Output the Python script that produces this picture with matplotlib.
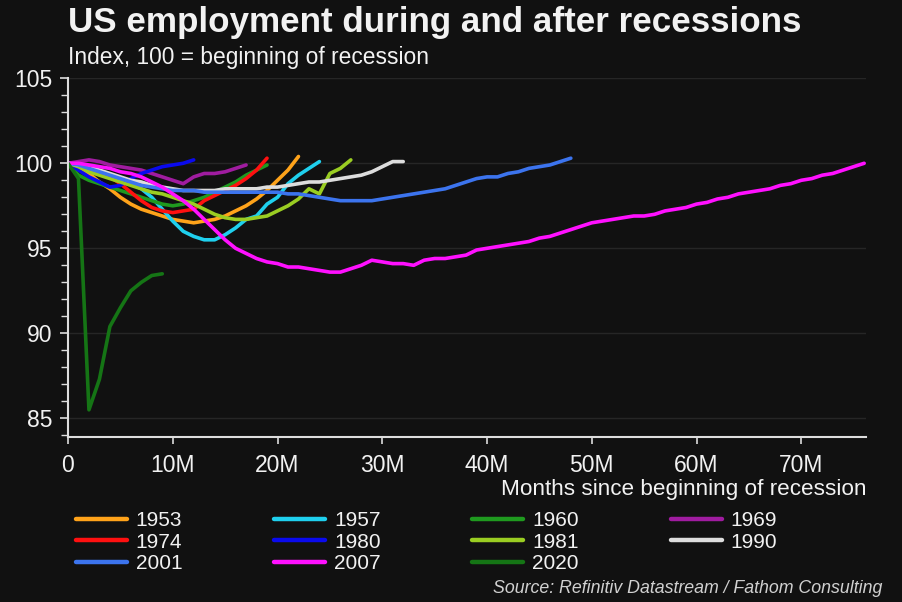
import matplotlib
matplotlib.use("Agg")
import matplotlib.pyplot as plt
from matplotlib.ticker import MultipleLocator, FuncFormatter

plt.rcParams["font.family"] = ["Liberation Sans", "DejaVu Sans"]

BG = "#111111"
FG = "#f2f2f2"

# index values, month 0 = beginning of recession
y1953 = [100, 99.7, 99.4, 98.9, 98.5, 98.0, 97.6, 97.3, 97.1, 96.9, 96.7, 96.6,
         96.5, 96.6, 96.7, 96.9, 97.2, 97.5, 97.9, 98.4, 99.0, 99.6, 100.4]
y1957 = [100, 99.9, 99.7, 99.5, 99.3, 99.1, 98.8, 98.5, 98.0, 97.3, 96.6, 96.0,
         95.7, 95.5, 95.5, 95.8, 96.2, 96.7, 96.9, 97.6, 98.0, 98.8, 99.3, 99.7, 100.1]
y1960 = [100, 99.3, 99.0, 98.8, 98.6, 98.4, 98.2, 98.0, 97.8, 97.6, 97.5, 97.6,
         97.8, 98.0, 98.3, 98.6, 98.9, 99.3, 99.6, 99.9]
y1969 = [100, 100.1, 100.2, 100.1, 99.9, 99.8, 99.7, 99.6, 99.4, 99.2, 99.0, 98.8,
         99.2, 99.4, 99.4, 99.5, 99.7, 99.9]
y1974 = [100, 99.9, 99.7, 99.5, 99.2, 98.8, 98.3, 97.8, 97.4, 97.2, 97.1, 97.2,
         97.3, 97.8, 98.1, 98.4, 98.7, 99.1, 99.6, 100.3]
y1980 = [100, 99.6, 99.2, 98.9, 98.6, 98.7, 99.1, 99.4, 99.6, 99.8, 99.9, 100.0, 100.2]
y1981 = [100, 99.8, 99.5, 99.3, 99.1, 98.9, 98.7, 98.5, 98.3, 98.2, 98.0, 97.8,
         97.6, 97.3, 97.0, 96.8, 96.7, 96.7, 96.8, 96.9, 97.2, 97.5, 97.9, 98.5,
         98.2, 99.4, 99.7, 100.2]
y1990 = [100, 99.9, 99.8, 99.6, 99.4, 99.2, 99.0, 98.9, 98.7, 98.6, 98.5, 98.4,
         98.4, 98.4, 98.4, 98.5, 98.5, 98.5, 98.5, 98.6, 98.6, 98.7, 98.8, 98.9,
         98.9, 99.0, 99.1, 99.2, 99.3, 99.5, 99.8, 100.1, 100.1]
y2001 = [100, 99.9, 99.7, 99.5, 99.3, 99.1, 98.9, 98.7, 98.6, 98.5, 98.4, 98.4,
         98.4, 98.3, 98.3, 98.3, 98.3, 98.3, 98.3, 98.3, 98.3, 98.2, 98.2, 98.1,
         98.0, 97.9, 97.8, 97.8, 97.8, 97.8, 97.9, 98.0, 98.1, 98.2, 98.3, 98.4,
         98.5, 98.7, 98.9, 99.1, 99.2, 99.2, 99.4, 99.5, 99.7, 99.8, 99.9, 100.1, 100.3]
y2007 = [100, 100.0, 99.9, 99.8, 99.7, 99.5, 99.4, 99.2, 98.9, 98.6, 98.2, 97.8,
         97.3, 96.7, 96.1, 95.5, 95.0, 94.7, 94.4, 94.2, 94.1, 93.9, 93.9, 93.8,
         93.7, 93.6, 93.6, 93.8, 94.0, 94.3, 94.2, 94.1, 94.1, 94.0, 94.3, 94.4,
         94.4, 94.5, 94.6, 94.9, 95.0, 95.1, 95.2, 95.3, 95.4, 95.6, 95.7, 95.9,
         96.1, 96.3, 96.5, 96.6, 96.7, 96.8, 96.9, 96.9, 97.0, 97.2, 97.3, 97.4,
         97.6, 97.7, 97.9, 98.0, 98.2, 98.3, 98.4, 98.5, 98.7, 98.8, 99.0, 99.1,
         99.3, 99.4, 99.6, 99.8, 100.0]
y2020 = [100, 99.1, 85.5, 87.3, 90.4, 91.5, 92.5, 93.0, 93.4, 93.5]

series = [
    ("1953", y1953, "#ffa31a"),
    ("1957", y1957, "#1fd0ee"),
    ("1960", y1960, "#1f9a1f"),
    ("1969", y1969, "#a01ca0"),
    ("1974", y1974, "#ff1010"),
    ("1980", y1980, "#0a0aee"),
    ("1981", y1981, "#9acd22"),
    ("1990", y1990, "#dddddd"),
    ("2001", y2001, "#3c74ee"),
    ("2007", y2007, "#ff10ff"),
    ("2020", y2020, "#157515"),
]
legend_order = ["1953", "1974", "2001", "1957", "1980", "2007",
                "1960", "1981", "2020", "1969", "1990"]

fig = plt.figure(figsize=(9.03, 6.02), dpi=100, facecolor=BG)
ax = fig.add_axes([0.0753, 0.274, 0.884, 0.596], facecolor=BG)

handles = {}
for name, vals, col in series:
    (ln,) = ax.plot(range(len(vals)), vals, color=col, lw=2.6, label=name,
                    solid_capstyle="round")
    handles[name] = ln

ax.set_xlim(0, 76.2)
ax.set_ylim(83.9, 105)
ax.yaxis.set_major_locator(MultipleLocator(5))
ax.yaxis.set_minor_locator(MultipleLocator(1))
ax.xaxis.set_major_locator(MultipleLocator(10))
ax.xaxis.set_major_formatter(FuncFormatter(lambda v, p: "0" if v == 0 else f"{v:.0f}M"))
ax.grid(axis="y", which="major", color="#262626", lw=1)
ax.set_axisbelow(True)

for s in ["top", "right"]:
    ax.spines[s].set_visible(False)
for s in ["left", "bottom"]:
    ax.spines[s].set_color("#dddddd")
    ax.spines[s].set_linewidth(1.5)
ax.tick_params(colors="#dddddd", labelcolor=FG, labelsize=16.5, width=1.2)
ax.tick_params(axis="y", which="major", length=6, pad=5)
ax.tick_params(axis="y", which="minor", length=5, width=1, colors="#dddddd")
ax.tick_params(axis="x", which="major", length=5, pad=7)

ax.set_xlabel("Months since beginning of recession", color=FG, fontsize=16.2,
              loc="right", labelpad=2)

fig.text(0.0753, 0.963, "US employment during and after recessions", color=FG,
         fontsize=25.2, fontweight="bold", va="center")
fig.text(0.0753, 0.905, "Index, 100 = beginning of recession", color=FG,
         fontsize=16.4, va="center")

leg = fig.legend([handles[n] for n in legend_order], legend_order, ncol=4,
                 loc="upper left", bbox_to_anchor=(0.063, 0.182), frameon=False,
                 fontsize=15, labelcolor=FG, handlelength=2.45, handletextpad=0.43,
                 columnspacing=4.4, labelspacing=0.12, borderpad=0.4)
for ln in leg.get_lines():
    ln.set_linewidth(3.2)

fig.text(0.977, 0.022, "Source: Refinitiv Datastream / Fathom Consulting",
         color="#d0d0d0", fontsize=12.8, style="italic", ha="right", va="center")

fig.savefig("out.png", dpi=100, facecolor=BG)
